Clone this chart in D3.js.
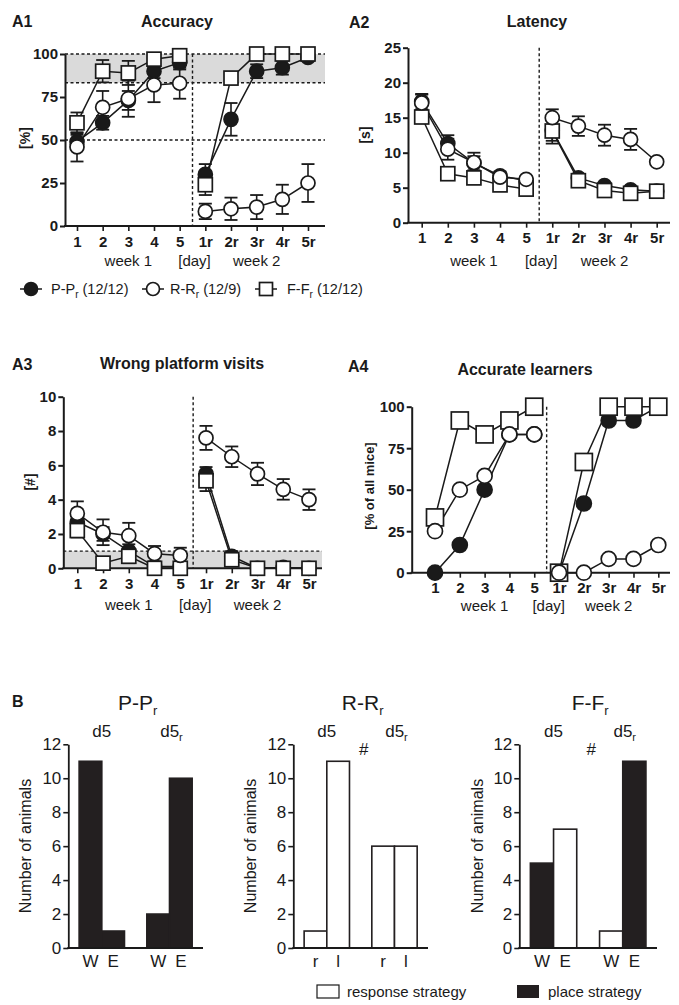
<!DOCTYPE html>
<html><head><meta charset="utf-8">
<script src="https://cdn.jsdelivr.net/npm/d3@7"></script>
<style>
body{margin:0;background:#fff}
svg{display:block}
text{font-family:"Liberation Sans",Arial,sans-serif;fill:#1a1a1a}
</style>
</head><body><svg id="c" width="679" height="1005"></svg>
<script>
// ---------- DATA ----------
const days = ["1","2","3","4","5","1r","2r","3r","4r","5r"];

// A1 Accuracy [%]
const accP    = [49, 60, 73, 90, 95, 30, 62, 90, 92, 98];
const accPerr = [4, 4, 5.5, 4, 4, 6, 9.5, 4, 4, 2];
const accR    = [46, 69, 74, 82, 83, 8.5, 10, 11, 15.5, 25];
const accRerr = [8.5, 9.5, 10.5, 10, 9, 4.5, 6.5, 7, 8.5, 11];
const accF    = [60, 90, 89, 97, 99, 24, 86, 100, 100, 100];
const accFerr = [6, 6.5, 7, 3, 1.5, 6, 3, 0, 0, 0];

// A2 Latency [s]
const latP    = [17.3, 11.3, 8.5, 6.7, 6.0, 13.2, 6.4, 5.3, 4.7, 4.5];
const latPerr = [1.1, 1.2, 1.0, 0.6, 0.5, 1.5, 0.5, 0.4, 0.4, 0.3];
const latR    = [17.1, 10.5, 8.6, 6.5, 6.2, 15.0, 13.8, 12.5, 11.9, 8.7];
const latRerr = [1.2, 1.5, 1.4, 0.5, 0.4, 1.2, 1.4, 1.5, 1.5, 0.4];
const latF    = [15.1, 7.0, 6.4, 5.4, 4.8, 13.1, 6.0, 4.6, 4.2, 4.5];
const latFerr = [0.8, 0.5, 0.5, 0.4, 0.4, 1.8, 0.4, 0.3, 0.3, 0.3];

// A3 Wrong platform visits [#]
const wpvP    = [2.7, 2.0, 1.0, 0.1, 0.1, 5.5, 0.7, 0, 0.05, 0];
const wpvPerr = [0.5, 0.4, 0.4, 0.1, 0.1, 0.4, 0.3, 0, 0.05, 0];
const wpvR    = [3.2, 2.1, 1.9, 0.85, 0.75, 7.6, 6.5, 5.5, 4.6, 4.0];
const wpvRerr = [0.7, 0.75, 0.75, 0.45, 0.45, 0.7, 0.6, 0.65, 0.6, 0.6];
const wpvF    = [2.2, 0.3, 0.7, 0, 0, 5.1, 0.5, 0, 0, 0];
const wpvFerr = [0.4, 0.2, 0.4, 0, 0, 0.6, 0.3, 0, 0, 0];

// A4 Accurate learners [% of all mice]
const alP = [0, 16.7, 50, 83.3, 83.3, 0, 41.7, 91.7, 91.7, 100];
const alR = [25, 50, 58.3, 83.3, 83.3, 0, 0, 8.3, 8.3, 16.7];
const alF = [33.3, 91.7, 83.3, 91.7, 100, 0, 66.7, 100, 100, 100];

// Legend
const legendNames = ["P-P", "R-R", "F-F"];
const legendN = ["(12/12)", "(12/9)", "(12/12)"];

// B strategy counts
const bGroups = ["d5", "d5r"];
const ppLabels = ["W", "E"];
const ppVals = [[11, 1], [2, 10]];
const ppStrat = [["place", "place"], ["place", "place"]];
const rrLabels = ["r", "l"];
const rrVals = [[1, 11], [6, 6]];
const rrStrat = [["response", "response"], ["response", "response"]];
const ffLabels = ["W", "E"];
const ffVals = [[5, 7], [1, 11]];
const ffStrat = [["place", "response"], ["response", "place"]];

// ---------- DRAWING ----------
const svg = d3.select("#c");
const INK = "#1a1a1a";

function linePanel(o) {
  const g = svg.append("g");
  const x = d3.scalePoint().domain(days).range([o.x0, o.x1]);
  const y = d3.scaleLinear().domain([0, o.ymax]).range([o.bottom, o.top]);
  if (o.shade) {
    g.append("rect").attr("x", o.left).attr("width", o.right - o.left)
      .attr("y", y(o.shade[1])).attr("height", y(o.shade[0]) - y(o.shade[1]))
      .attr("fill", "#dadada");
  }
  (o.dashY || []).forEach(v => {
    g.append("line").attr("x1", o.left).attr("x2", o.right).attr("y1", y(v)).attr("y2", y(v))
      .attr("stroke", INK).attr("stroke-width", 1.4).attr("stroke-dasharray", "3,2.5");
  });
  const xm = (x("5") + x("1r")) / 2;
  g.append("line").attr("x1", xm).attr("x2", xm).attr("y1", o.top).attr("y2", o.bottom)
    .attr("stroke", INK).attr("stroke-width", 1.4).attr("stroke-dasharray", "3,2.5");

  // axes
  const ya = g.append("g").attr("transform", `translate(${o.left},0)`)
    .call(d3.axisLeft(y).tickValues(o.yticks).tickSize(5).tickSizeOuter(0).tickPadding(2));
  ya.select(".domain").attr("stroke", INK).attr("stroke-width", 2);
  ya.selectAll(".tick line").attr("stroke", INK).attr("stroke-width", 2);
  ya.selectAll(".tick text").attr("font-size", 15).attr("font-weight", "bold")
    .attr("font-family", '"Liberation Sans",Arial,sans-serif').attr("fill", INK);

  const xa = g.append("g").attr("transform", `translate(0,${o.bottom})`)
    .call(d3.axisBottom(x).tickSize(5).tickSizeOuter(0).tickPadding(5));
  xa.select(".domain").remove();
  xa.selectAll(".tick line").attr("stroke", INK).attr("stroke-width", 1.6);
  xa.selectAll(".tick text").attr("font-size", 15).attr("font-weight", "bold")
    .attr("font-family", '"Liberation Sans",Arial,sans-serif').attr("fill", INK);
  g.append("line").attr("x1", o.left - 1).attr("x2", o.right).attr("y1", o.bottom).attr("y2", o.bottom)
    .attr("stroke", INK).attr("stroke-width", 2);

  // error bars
  o.series.forEach(s => {
    if (!s.err) return;
    s.vals.forEach((v, i) => {
      const e = s.err[i];
      if (!e) return;
      const cx = x(days[i]);
      const lo = Math.max(0, v - e), hi = v + e;
      g.append("line").attr("x1", cx).attr("x2", cx).attr("y1", y(lo)).attr("y2", y(hi))
        .attr("stroke", INK).attr("stroke-width", 1.6);
      [lo, hi].forEach(w => g.append("line").attr("x1", cx - 6.5).attr("x2", cx + 6.5)
        .attr("y1", y(w)).attr("y2", y(w)).attr("stroke", INK).attr("stroke-width", 1.8));
    });
  });
  // lines
  const line = d3.line().x(d => x(d.d)).y(d => y(d.v));
  o.series.forEach(s => {
    const pts = s.vals.map((v, i) => ({d: days[i], v}));
    [pts.slice(0, 5), pts.slice(5)].forEach(seg => {
      g.append("path").attr("d", line(seg)).attr("fill", "none")
        .attr("stroke", INK).attr("stroke-width", 1.5);
    });
  });
  // markers
  o.series.forEach(s => {
    s.vals.forEach((v, i) => {
      drawMarker(g, s.type, x(days[i]), y(v), o.mr, o.ms);
    });
  });

  // labels
  g.append("text").attr("x", o.labelX).attr("y", o.labelY).attr("font-size", 16)
    .attr("font-weight", "bold").text(o.label);
  g.append("text").attr("x", o.titleX).attr("y", o.titleY).attr("font-size", 16)
    .attr("font-weight", "bold").attr("text-anchor", "middle").text(o.title);
  g.append("text").attr("transform", `translate(${o.ylabX},${o.ylabY}) rotate(-90)`)
    .attr("text-anchor", "middle").attr("font-size", o.ylabSize || 14).attr("font-weight", "bold")
    .text(o.ylabel);
  // week labels
  const wk = [
    {t: "week 1", x: (x("1") + x("5")) / 2},
    {t: "[day]", x: xm + 2},
    {t: "week 2", x: (x("1r") + x("5r")) / 2}
  ];
  wk.forEach(w => g.append("text").attr("x", w.x).attr("y", o.weekY).attr("font-size", 15)
    .attr("text-anchor", "middle").text(w.t));
}

function drawMarker(g, type, cx, cy, r, s) {
  if (type === "square") {
    g.append("rect").attr("x", cx - s / 2).attr("y", cy - s / 2).attr("width", s).attr("height", s)
      .attr("fill", "#fff").attr("stroke", INK).attr("stroke-width", 1.7);
  } else {
    g.append("circle").attr("cx", cx).attr("cy", cy).attr("r", r)
      .attr("fill", type === "filled" ? INK : "#fff").attr("stroke", INK).attr("stroke-width", 1.7);
  }
}

linePanel({
  left: 65, right: 325, top: 54, bottom: 226, x0: 77, x1: 308, ymax: 100,
  yticks: [0, 25, 50, 75, 100], shade: [83.3, 100], dashY: [100, 83.3, 50],
  series: [
    {vals: accP, err: accPerr, type: "filled"},
    {vals: accF, err: accFerr, type: "square"},
    {vals: accR, err: accRerr, type: "open"}
  ],
  mr: 7, ms: 14,
  label: "A1", labelX: 12, labelY: 27, title: "Accuracy", titleX: 177, titleY: 27,
  ylabel: "[%]", ylabX: 30, ylabY: 138, weekY: 266
});

linePanel({
  left: 408, right: 670, top: 47.7, bottom: 222.7, x0: 421.7, x1: 656.7, ymax: 25,
  yticks: [0, 5, 10, 15, 20, 25],
  series: [
    {vals: latP, err: latPerr, type: "filled"},
    {vals: latF, err: latFerr, type: "square"},
    {vals: latR, err: latRerr, type: "open"}
  ],
  mr: 7, ms: 14,
  label: "A2", labelX: 349, labelY: 28, title: "Latency", titleX: 537, titleY: 27,
  ylabel: "[s]", ylabX: 370, ylabY: 135, weekY: 266
});

linePanel({
  left: 63.3, right: 322, top: 396.7, bottom: 568.3, x0: 77.3, x1: 309, ymax: 10,
  yticks: [0, 2, 4, 6, 8, 10], shade: [0, 1], dashY: [1],
  series: [
    {vals: wpvP, err: wpvPerr, type: "filled"},
    {vals: wpvF, err: wpvFerr, type: "square"},
    {vals: wpvR, err: wpvRerr, type: "open"}
  ],
  mr: 7, ms: 14,
  label: "A3", labelX: 12, labelY: 370, title: "Wrong platform visits", titleX: 182, titleY: 369,
  ylabel: "[#]", ylabX: 35, ylabY: 482, weekY: 610
});

linePanel({
  left: 411.7, right: 670, top: 406.7, bottom: 572.7, x0: 435, x1: 658.3, ymax: 100,
  yticks: [0, 25, 50, 75, 100],
  series: [
    {vals: alP, type: "filled"},
    {vals: alF, type: "square"},
    {vals: alR, type: "open"}
  ],
  mr: 7.5, ms: 17,
  label: "A4", labelX: 348, labelY: 372, title: "Accurate learners", titleX: 525, titleY: 375,
  ylabel: "[% of all mice]", ylabX: 374, ylabY: 486, ylabSize: 13, weekY: 611
});

// legend A
const legTypes = ["filled", "open", "square"];
const legX = [31, 153, 266];
const legTX = [51, 170, 287];
legTypes.forEach((t, i) => {
  const g = svg.append("g");
  g.append("line").attr("x1", legX[i] - 11).attr("x2", legX[i] + 11).attr("y1", 289).attr("y2", 289)
    .attr("stroke", INK).attr("stroke-width", 1.5);
  drawMarker(g, t, legX[i], 289, 6.5, 13);
  const tx = g.append("text").attr("x", legTX[i]).attr("y", 294).attr("font-size", 14.5);
  tx.append("tspan").text(legendNames[i]);
  tx.append("tspan").attr("font-size", 10).attr("dy", 4).text("r");
  tx.append("tspan").attr("dy", -4).text(" " + legendN[i]);
});

// ---------- B ----------
function barPanel(o) {
  const g = svg.append("g");
  const y = d3.scaleLinear().domain([0, 12]).range([948, 744.3]);
  const xg = d3.scaleBand().domain(bGroups).range([o.left, o.right]).paddingInner(0.33).paddingOuter(0.16);
  const xs = d3.scaleBand().domain([0, 1]).range([0, xg.bandwidth()]);
  bGroups.forEach((grp, gi) => {
    o.vals[gi].forEach((v, bi) => {
      const bx = xg(grp) + xs(bi);
      const black = o.strat[gi][bi] === "place";
      g.append("rect").attr("x", bx).attr("y", y(v)).attr("width", xs.bandwidth())
        .attr("height", y(0) - y(v)).attr("fill", black ? "#231f20" : "#fff")
        .attr("stroke", "#231f20").attr("stroke-width", 1.6);
      g.append("text").attr("x", bx + xs.bandwidth() / 2).attr("y", 967).attr("font-size", 17)
        .attr("text-anchor", "middle").text(o.labels[bi]);
    });
    const gt = g.append("text").attr("x", xg(grp) + xg.bandwidth() / 2 + (gi ? 2 : 0)).attr("y", 737)
      .attr("font-size", 17).attr("text-anchor", "middle");
    gt.append("tspan").text("d5");
    if (gi) gt.append("tspan").attr("font-size", 11).attr("dy", 4).text("r");
  });
  const ya = g.append("g").attr("transform", `translate(${o.left},0)`)
    .call(d3.axisLeft(y).tickValues([0, 2, 4, 6, 8, 10, 12]).tickSize(5).tickSizeOuter(0).tickPadding(2));
  ya.select(".domain").attr("stroke", INK).attr("stroke-width", 1.8);
  ya.selectAll(".tick line").attr("stroke", INK).attr("stroke-width", 1.6);
  ya.selectAll(".tick text").attr("font-size", 17)
    .attr("font-family", '"Liberation Sans",Arial,sans-serif').attr("fill", INK);
  g.append("line").attr("x1", o.left - 1).attr("x2", o.right).attr("y1", 948).attr("y2", 948)
    .attr("stroke", INK).attr("stroke-width", 1.8);
  const tt = g.append("text").attr("x", (o.left + o.right) / 2 + 2).attr("y", 710).attr("font-size", 21)
    .attr("text-anchor", "middle");
  tt.append("tspan").text(o.title);
  tt.append("tspan").attr("font-size", 13).attr("dy", 5).text("r");
  if (o.hash) {
    const gapC = (xg("d5") + xg.bandwidth() + xg("d5r")) / 2;
    g.append("text").attr("x", gapC + 3).attr("y", 755).attr("font-size", 17)
      .attr("text-anchor", "middle").text("#");
  }
  g.append("text").attr("transform", `translate(${o.ylabX},846) rotate(-90)`)
    .attr("text-anchor", "middle").attr("font-size", 16).text("Number of animals");
}

svg.append("text").attr("x", 12).attr("y", 707).attr("font-size", 16).attr("font-weight", "bold").text("B");

barPanel({left: 68.3, right: 203, vals: ppVals, strat: ppStrat, labels: ppLabels, title: "P-P", ylabX: 31, hash: false});
barPanel({left: 293.3, right: 428, vals: rrVals, strat: rrStrat, labels: rrLabels, title: "R-R", ylabX: 256, hash: true});
barPanel({left: 519.3, right: 657, vals: ffVals, strat: ffStrat, labels: ffLabels, title: "F-F", ylabX: 483, hash: true});

// B legend
svg.append("rect").attr("x", 317).attr("y", 985).attr("width", 22).attr("height", 13)
  .attr("fill", "#fff").attr("stroke", INK).attr("stroke-width", 1.2);
svg.append("text").attr("x", 347).attr("y", 997).attr("font-size", 15).text("response strategy");
svg.append("rect").attr("x", 517).attr("y", 985).attr("width", 22).attr("height", 13)
  .attr("fill", "#231f20");
svg.append("text").attr("x", 548).attr("y", 997).attr("font-size", 15).text("place strategy");
</script>
</body></html>
